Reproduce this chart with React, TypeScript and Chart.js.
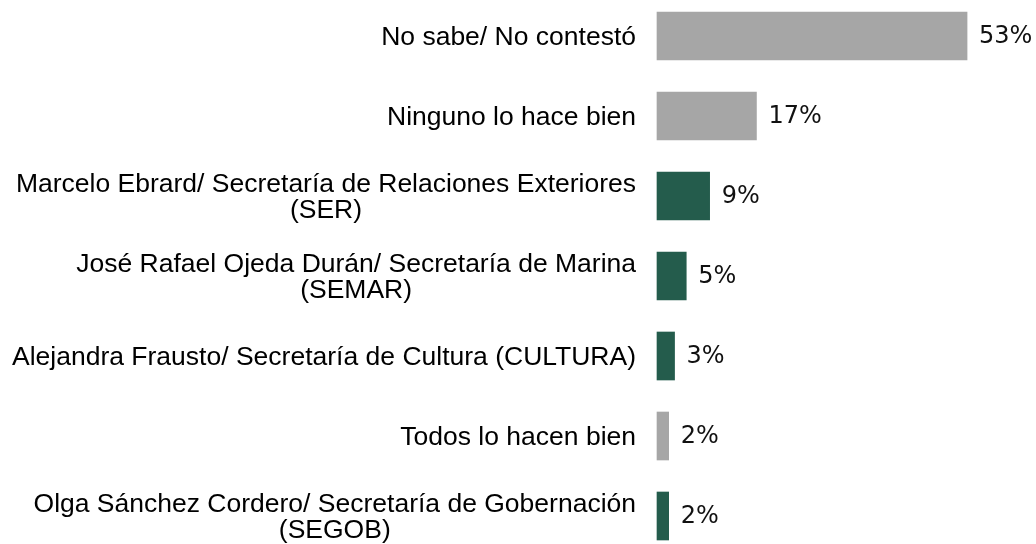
import { useEffect, useRef } from 'react';
import { Chart, registerables } from 'chart.js';

Chart.register(...registerables);

const categories: string[][] = [
  ['No sabe/ No contestó'],
  ['Ninguno lo hace bien'],
  ['Marcelo Ebrard/ Secretaría de Relaciones Exteriores', '(SER)'],
  ['José Rafael Ojeda Durán/ Secretaría de Marina', '(SEMAR)'],
  ['Alejandra Frausto/ Secretaría de Cultura (CULTURA)'],
  ['Todos lo hacen bien'],
  ['Olga Sánchez Cordero/ Secretaría de Gobernación', '(SEGOB)'],
];
const values = [53, 17, 9, 5, 3, 2, 2];
const GRAY = '#a6a6a6';
const GREEN = '#245c4c';
const barColors = [GRAY, GRAY, GREEN, GREEN, GREEN, GRAY, GREEN];
const valueLabels = values.map((v) => `${v}%`);

const labelPlugin = {
  id: 'customLabels',
  afterDatasetsDraw(chart: any) {
    const ctx = chart.ctx;
    const ys = chart.scales.y;
    const xs = chart.scales.x;
    const area = chart.chartArea;
    ctx.save();
    // category labels
    ctx.font = '26.5px "Liberation Sans", Arial, sans-serif';
    ctx.fillStyle = '#000000';
    ctx.textBaseline = 'middle';
    ctx.textAlign = 'center';
    const lh = 26;
    categories.forEach((lines, i) => {
      const cy = ys.getPixelForValue(i);
      const w = Math.max(...lines.map((l) => ctx.measureText(l).width));
      const cx = area.left - 21 - w / 2;
      lines.forEach((l, j) => {
        ctx.fillText(l, cx, cy + (j - (lines.length - 1) / 2) * lh + 2);
      });
    });
    // value labels
    ctx.font = '24px "DejaVu Sans", sans-serif';
    ctx.textAlign = 'left';
    ctx.fillStyle = '#111111';
    values.forEach((v, i) => {
      const x = xs.getPixelForValue(v) + 12;
      const y = ys.getPixelForValue(i);
      ctx.fillText(valueLabels[i], x, y + 1);
    });
    ctx.restore();
  },
};

export default function App() {
  const ref = useRef<HTMLCanvasElement | null>(null);
  useEffect(() => {
    if (!ref.current) return;
    const chart = new Chart(ref.current, {
      type: 'bar',
      data: {
        labels: categories,
        datasets: [
          {
            data: values,
            backgroundColor: barColors,
            borderWidth: 0,
            barThickness: 48,
            clip: false as any,
          },
        ],
      },
      plugins: [labelPlugin],
      options: {
        indexAxis: 'y',
        animation: false,
        responsive: true,
        maintainAspectRatio: false,
        layout: { padding: { top: 36, bottom: 28, left: 0, right: 28 } },
        plugins: { legend: { display: false }, tooltip: { enabled: false } },
        scales: {
          x: { display: false, min: 0, max: 60 },
          y: {
            offset: false,
            grid: { display: false },
            border: { display: false },
            ticks: { display: false },
            afterFit: (s: any) => {
              s.width = 657;
            },
          },
        },
      },
    });
    return () => chart.destroy();
  }, []);
  return (
    <div style={{ position: 'fixed', left: 0, top: 0, width: 1036, height: 544, background: '#fff' }}>
      <canvas ref={ref} />
    </div>
  );
}
